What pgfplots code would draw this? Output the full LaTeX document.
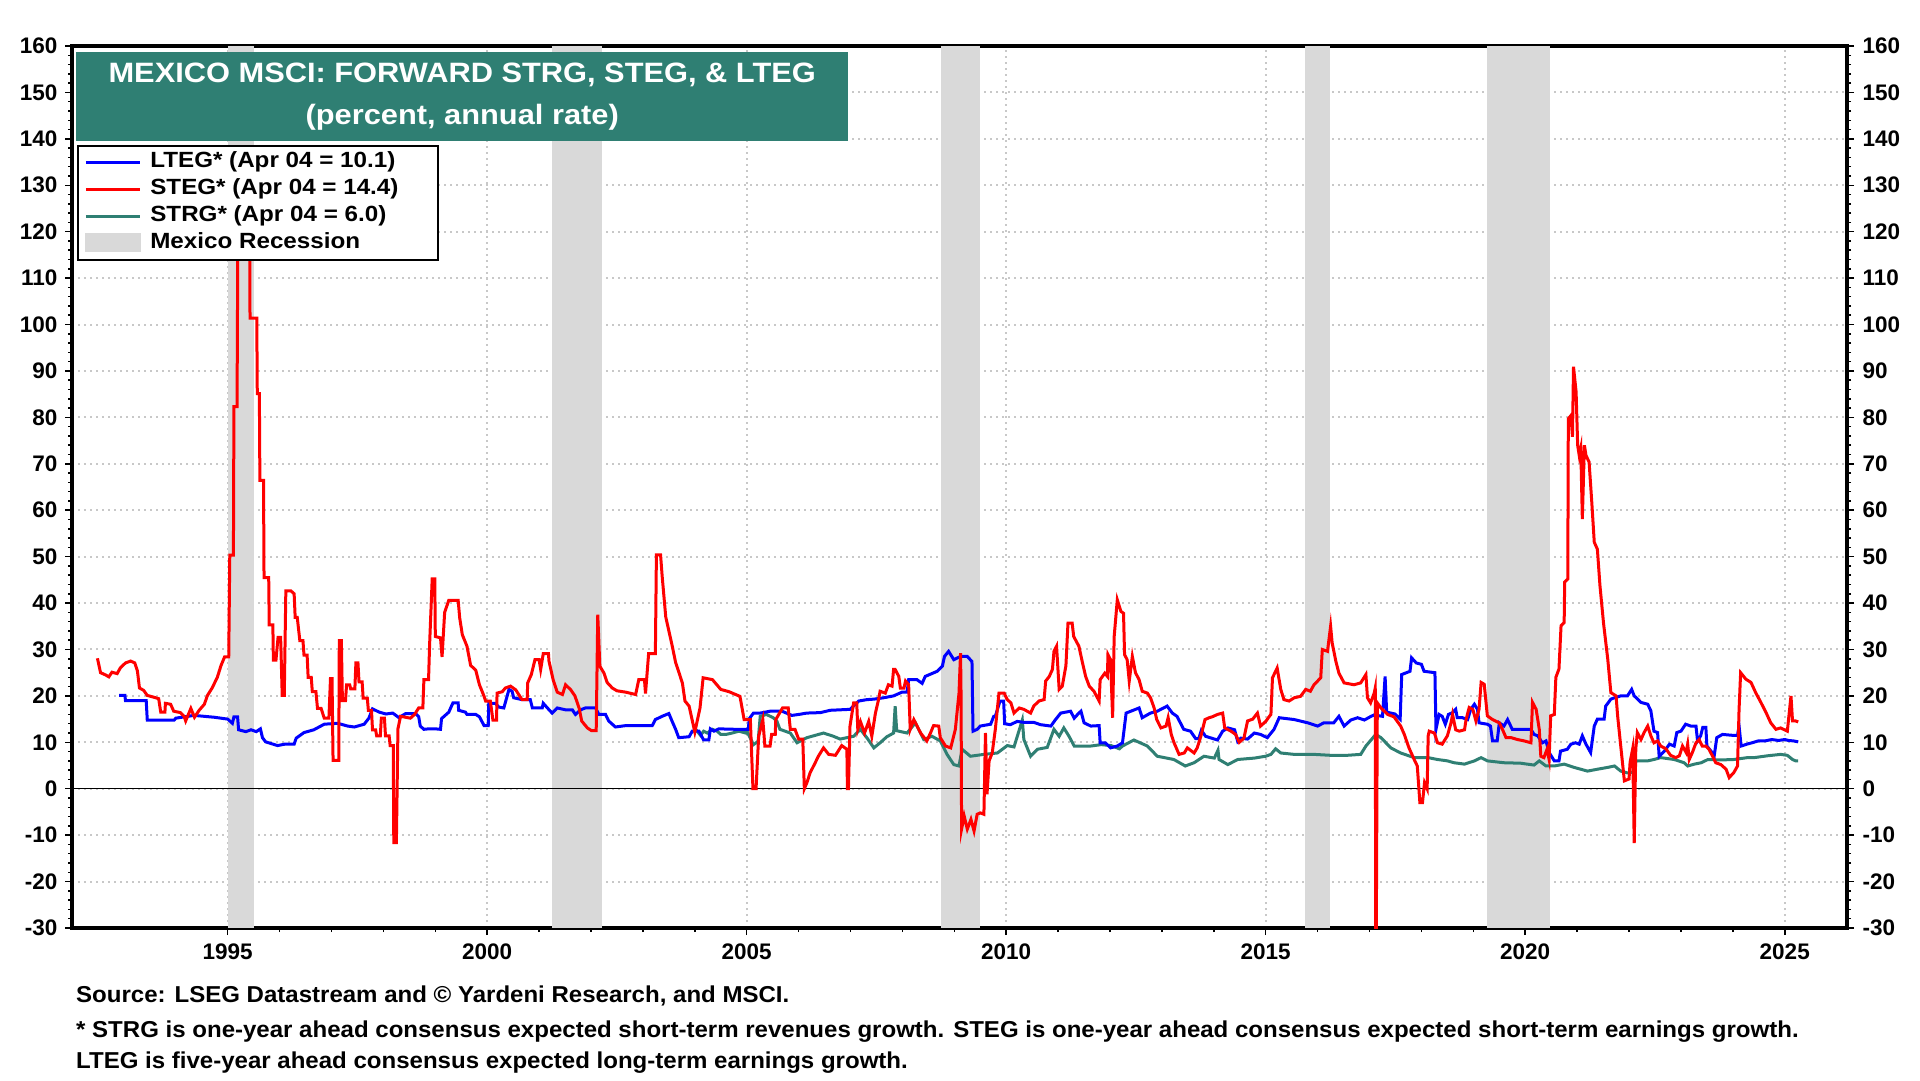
\documentclass[border=0pt]{standalone}
\usepackage{fontspec}
\setmainfont{Liberation Sans}
\newfontfamily\titlefont[FakeStretch=1.1]{Liberation Sans}
\newfontfamily\notefont[FakeStretch=1.045]{Liberation Sans}
\usepackage{pgfplots}
\pgfplotsset{compat=1.18}
\definecolor{teal1}{RGB}{47,127,115}
\definecolor{recg}{RGB}{217,217,217}
\definecolor{gridg}{RGB}{200,200,200}
\begin{document}
\begin{tikzpicture}[x=1pt,y=1pt]
\useasboundingbox (0,0) rectangle (1920,1080);
\begin{axis}[
  at={(72pt,152pt)}, anchor=south west,
  scale only axis, width=1775pt, height=882pt,
  xmin=1992.0, xmax=2026.2, ymin=-30, ymax=160,
  xtick={1995,2000,...,2025}, minor x tick num=4,
  ytick={-30,-20,...,160}, minor y tick num=4,
  xtick pos=left, ytick pos=left,
  tick align=outside,
  major tick length=7pt, minor tick length=4pt,
  every tick/.style={black, line width=1.5pt},
  axis line style={black, line width=3.5pt},
  /pgf/number format/assume math mode=true,
  ticklabel style={font=\bfseries\fontsize{22.5}{22.5}\selectfont},
  xticklabel style={/pgf/number format/1000 sep=, yshift=-5pt},
  yticklabel style={xshift=-4pt},
  grid=major,
  major grid style={line width=2pt, color=gridg, dash pattern=on 2pt off 4pt},
  legend cell align=left,
  legend style={at={(rel axis cs:0.003,0.888)}, anchor=north west,
    draw=black, line width=2pt, fill=white, inner xsep=6pt, inner ysep=4pt,
    font=\titlefont\bfseries\fontsize{22}{27}\selectfont, row sep=2pt,
    nodes={inner sep=2pt, text height=16pt, text depth=5pt}},
  legend image code/.code={\draw[#1] (0pt,0pt) -- (54pt,0pt); \path (61pt,0pt);},
]
% recessions
\addplot[fill=recg, draw=none, forget plot] coordinates {(1995.0,-30) (1995.0,160) (1995.5,160) (1995.5,-30)} -- cycle;
\addplot[fill=recg, draw=none, forget plot] coordinates {(2001.24,-30) (2001.24,160) (2002.22,160) (2002.22,-30)} -- cycle;
\addplot[fill=recg, draw=none, forget plot] coordinates {(2008.75,-30) (2008.75,160) (2009.49,160) (2009.49,-30)} -- cycle;
\addplot[fill=recg, draw=none, forget plot] coordinates {(2015.75,-30) (2015.75,160) (2016.23,160) (2016.23,-30)} -- cycle;
\addplot[fill=recg, draw=none, forget plot] coordinates {(2019.26,-30) (2019.26,160) (2020.48,160) (2020.48,-30)} -- cycle;
% zero line
\addplot[black, line width=1.3pt, forget plot] coordinates {(1992,0) (2026.2,0)};
% STRG
\addplot[teal1, line width=3pt, forget plot] coordinates {
(2004.01,12.9) (2004.11,11.5) (2004.17,12.4) (2004.24,12) (2004.34,12.8) (2004.43,12.4) (2004.50,11.7) (2004.60,11.7) (2004.72,12) (2004.85,12.4) (2004.98,12) (2005.00,12.5) (2005.13,9.5) (2005.22,10.2) (2005.26,15.6) (2005.38,16) (2005.51,15.3) (2005.58,14.6) (2005.64,12.8) (2005.84,12) (2005.97,9.9) (2006.16,11) (2006.48,12) (2006.67,11.3) (2006.80,10.7) (2007.06,11.3) (2007.19,12.8) (2007.32,10.9) (2007.45,8.8) (2007.57,9.9) (2007.70,11.2) (2007.83,12) (2007.86,17.8) (2007.89,12.5) (2008.09,12) (2008.25,14.2) (2008.41,10.6) (2008.57,11.3) (2008.73,10.3) (2008.86,7.4) (2008.99,5.2) (2009.09,4.9) (2009.15,8.5) (2009.31,7) (2009.57,7.4) (2009.83,7.7) (2010.02,9.3) (2010.15,9) (2010.31,14.8) (2010.34,10.6) (2010.47,7) (2010.60,8.5) (2010.79,8.9) (2010.92,12.8) (2011.02,11.3) (2011.11,13.1) (2011.21,11.3) (2011.31,9.2) (2011.44,9.2) (2011.63,9.2) (2011.83,9.5) (2012.02,9.3) (2012.18,8.6) (2012.24,9.2) (2012.46,10.5) (2012.72,9.2) (2012.91,7) (2013.23,6.3) (2013.45,4.9) (2013.62,5.6) (2013.81,7) (2014.01,6.6) (2014.08,8.3) (2014.10,6.3) (2014.27,5.2) (2014.46,6.3) (2014.78,6.6) (2015.00,7) (2015.10,7.4) (2015.19,8.6) (2015.29,7.7) (2015.55,7.4) (2015.93,7.4) (2016.25,7.2) (2016.57,7.2) (2016.83,7.4) (2016.93,9.2) (2017.12,11.7) (2017.22,11) (2017.41,8.8) (2017.60,7.7) (2017.86,6.7) (2018.13,6.7) (2018.31,6.3) (2018.50,6) (2018.63,5.6) (2018.83,5.3) (2019.02,6) (2019.15,6.7) (2019.27,6) (2019.59,5.6) (2019.91,5.5) (2020.17,5.1) (2020.27,6) (2020.40,4.9) (2020.56,4.9) (2020.75,5.3) (2020.94,4.6) (2021.20,3.8) (2021.39,4.2) (2021.59,4.6) (2021.72,4.9) (2021.84,3.8) (2021.97,3.4) (2022.10,3.6) (2022.13,6) (2022.36,6) (2022.48,6.3) (2022.61,6.7) (2022.87,6.3) (2023.06,5.6) (2023.13,4.9) (2023.26,5.3) (2023.39,5.6) (2023.52,6.3) (2023.77,6.2) (2024.02,6.3) (2024.28,6.7) (2024.41,6.7) (2024.67,7.1) (2024.92,7.4) (2025.05,7.2) (2025.15,6.3) (2025.21,6) (2025.26,6.0)
};
% LTEG
\addplot[blue, line width=3pt, forget plot] coordinates {
(1992.91,20.1) (1993.02,20.1) (1993.03,19) (1993.43,19) (1993.45,14.8) (1993.97,14.8) (1994.0,15.2) (1994.35,15.8) (1994.74,15.4) (1995.00,15) (1995.09,14.1) (1995.12,15.5) (1995.19,15.5) (1995.21,12.7) (1995.35,12.3) (1995.45,12.7) (1995.55,12.3) (1995.63,12.9) (1995.67,11) (1995.73,10.1) (1995.96,9.3) (1996.10,9.6) (1996.28,9.6) (1996.32,10.9) (1996.47,12.1) (1996.66,12.7) (1996.86,13.9) (1997.12,14.1) (1997.31,13.5) (1997.44,13.3) (1997.63,13.9) (1997.72,15.2) (1997.79,17.2) (1997.92,16.5) (1998.05,16.1) (1998.18,16.3) (1998.30,15.3) (1998.37,15.8) (1998.43,16.2) (1998.62,16.2) (1998.68,15.5) (1998.71,13.5) (1998.78,12.8) (1998.87,12.9) (1999.0,12.9) (1999.10,12.8) (1999.12,15.1) (1999.26,16.5) (1999.34,18.5) (1999.44,18.5) (1999.45,16.9) (1999.58,16.5) (1999.61,16) (1999.78,16) (1999.85,15.5) (1999.94,13.6) (2000.02,13.6) (2000.03,18.4) (2000.16,18.4) (2000.22,17.6) (2000.32,17.4) (2000.42,21.4) (2000.48,21) (2000.51,19.6) (2000.67,19.2) (2000.83,19.2) (2000.87,17.4) (2001.06,17.4) (2001.08,18.4) (2001.16,17.4) (2001.25,16.3) (2001.35,17.4) (2001.51,17) (2001.64,17) (2001.70,16) (2001.80,17) (2001.89,17.4) (2002.09,17.4) (2002.15,16) (2002.28,16) (2002.34,14.6) (2002.47,13.3) (2002.67,13.6) (2003.03,13.6) (2003.18,13.6) (2003.24,14.9) (2003.37,15.6) (2003.50,16.2) (2003.56,14.6) (2003.63,12.8) (2003.69,11) (2003.89,11.2) (2003.95,12.4) (2004.08,12.4) (2004.17,10.5) (2004.27,10.5) (2004.30,12.9) (2004.37,12.4) (2004.46,12.9) (2004.79,12.8) (2005.03,12.8) (2005.05,15.1) (2005.13,16.3) (2005.26,16.3) (2005.45,16.7) (2005.68,16.7) (2005.87,15.8) (2006.00,16) (2006.16,16.3) (2006.42,16.4) (2006.61,16.9) (2006.99,17.1) (2007.16,18.9) (2007.32,19.2) (2007.45,19.3) (2007.64,19.6) (2007.83,20) (2007.99,20.8) (2008.09,20.8) (2008.12,23.5) (2008.28,23.5) (2008.38,22.7) (2008.44,24.2) (2008.67,25.3) (2008.77,26.4) (2008.81,28.5) (2008.89,29.6) (2008.99,27.8) (2009.12,28.5) (2009.25,28.5) (2009.34,27.4) (2009.36,12.4) (2009.44,12.8) (2009.50,13.5) (2009.70,13.9) (2009.76,15.6) (2009.79,15.6) (2009.88,18.9) (2009.95,18.9) (2009.97,14) (2010.08,13.8) (2010.21,14.5) (2010.34,14.3) (2010.53,14.3) (2010.66,13.8) (2010.86,13.5) (2010.95,14.9) (2011.05,16.3) (2011.24,16.7) (2011.31,15.2) (2011.40,16.3) (2011.44,16.7) (2011.50,14.2) (2011.63,13.5) (2011.79,13.6) (2011.81,9.9) (2011.91,9.9) (2012.01,8.8) (2012.14,9.2) (2012.24,9.9) (2012.31,16.3) (2012.56,17.4) (2012.62,15.3) (2012.78,16.3) (2012.91,16.7) (2013.10,17.8) (2013.20,16.3) (2013.29,15.6) (2013.42,12.8) (2013.55,12.4) (2013.65,10.8) (2013.71,10.8) (2013.76,12.6) (2013.84,11.3) (2014.07,10.5) (2014.17,12.4) (2014.27,13.1) (2014.40,12.7) (2014.46,10.2) (2014.52,10.9) (2014.65,10.7) (2014.78,12) (2014.90,11.7) (2015.03,11) (2015.16,12.8) (2015.26,15.3) (2015.55,14.9) (2015.81,14.2) (2016.00,13.5) (2016.12,14.2) (2016.31,14.2) (2016.41,15.6) (2016.51,13.5) (2016.64,14.8) (2016.77,15.3) (2016.90,14.8) (2017.03,15.6) (2017.09,15.9) (2017.25,15.6) (2017.30,24.2) (2017.33,16.5) (2017.49,16.1) (2017.59,15) (2017.62,24.6) (2017.78,25.3) (2017.81,28.2) (2017.90,27.1) (2018.00,26.8) (2018.05,25.3) (2018.26,25) (2018.28,12.8) (2018.34,16) (2018.40,15.6) (2018.46,13.9) (2018.52,16) (2018.60,16.4) (2018.66,17.1) (2018.69,15.3) (2018.79,15.3) (2018.89,14.9) (2018.95,17.1) (2019.02,18.2) (2019.08,17.1) (2019.11,14.2) (2019.27,13.9) (2019.33,13.5) (2019.37,10.3) (2019.46,10.3) (2019.50,14.2) (2019.59,13.5) (2019.66,14.9) (2019.72,13.5) (2019.75,12.8) (2020.11,12.8) (2020.17,11.7) (2020.24,11.4) (2020.33,9.9) (2020.40,10.3) (2020.46,7.8) (2020.56,6) (2020.65,6) (2020.68,8.1) (2020.81,8.5) (2020.88,9.6) (2020.97,9.9) (2021.04,9.6) (2021.10,11.4) (2021.17,9.6) (2021.26,7.8) (2021.33,13.5) (2021.39,15) (2021.52,15) (2021.55,17.8) (2021.65,19.3) (2021.72,19.6) (2021.84,20) (2021.97,20) (2022.05,21.4) (2022.10,20) (2022.23,18.6) (2022.36,18.2) (2022.42,16.8) (2022.45,14.6) (2022.48,12.4) (2022.55,12.1) (2022.58,7) (2022.68,8.1) (2022.78,9.6) (2022.87,9.2) (2022.92,12.1) (2023.00,12.4) (2023.09,13.9) (2023.19,13.5) (2023.29,13.5) (2023.32,10.3) (2023.38,11.4) (2023.42,13.2) (2023.48,13.2) (2023.50,9.2) (2023.58,8.1) (2023.64,7) (2023.69,11) (2023.80,11.7) (2024.00,11.5) (2024.09,11.5) (2024.12,13.5) (2024.16,9.2) (2024.27,9.6) (2024.37,9.9) (2024.49,10.3) (2024.62,10.3) (2024.75,10.6) (2024.88,10.4) (2025.0,10.6) (2025.07,10.4) (2025.17,10.3) (2025.26,10.1)
};
% STEG
\addplot[red, line width=3pt, forget plot] coordinates {
(1992.49,28.1) (1992.55,25) (1992.65,24.5) (1992.71,24.1) (1992.77,25.1) (1992.87,24.8) (1992.93,26) (1993.03,27.1) (1993.13,27.5) (1993.21,27.1) (1993.26,25.4) (1993.30,21.7) (1993.38,21.2) (1993.45,20.1) (1993.55,19.8) (1993.67,19.4) (1993.71,16.5) (1993.79,16.5) (1993.80,18.4) (1993.90,18.2) (1993.96,16.7) (1994.09,16.4) (1994.16,15.6) (1994.19,14.6) (1994.29,17.3) (1994.36,15.4) (1994.45,16.9) (1994.55,18.2) (1994.61,20.1) (1994.70,21.7) (1994.80,24) (1994.87,26.5) (1994.94,28.4) (1995.02,28.4) (1995.04,50.3) (1995.11,50.3) (1995.12,82.3) (1995.18,82.3) (1995.20,130) (1995.42,130) (1995.43,101.4) (1995.56,101.4) (1995.57,85.1) (1995.61,85.1) (1995.62,66.4) (1995.69,66.4) (1995.70,45.5) (1995.79,45.5) (1995.80,35.3) (1995.87,35.3) (1995.88,27.7) (1995.93,27.7) (1995.97,32.6) (1996.02,32.6) (1996.05,20.1) (1996.09,20.1) (1996.12,42.6) (1996.22,42.6) (1996.28,42) (1996.30,36.9) (1996.34,36.9) (1996.39,31.9) (1996.45,31.9) (1996.47,28.8) (1996.53,28.8) (1996.55,24) (1996.61,24) (1996.63,20.9) (1996.70,20.9) (1996.73,17.3) (1996.80,17.3) (1996.86,15.2) (1996.95,15.2) (1996.98,23.7) (1997.01,23.7) (1997.03,6.1) (1997.14,6.1) (1997.15,31.9) (1997.19,31.9) (1997.21,19) (1997.27,19) (1997.29,22.4) (1997.35,22.4) (1997.37,21.5) (1997.45,21.5) (1997.47,27.1) (1997.51,27.1) (1997.53,23) (1997.59,23) (1997.61,19.5) (1997.69,19.5) (1997.71,16.9) (1997.77,16.9) (1997.79,12.7) (1997.85,12.7) (1997.87,11.4) (1997.94,11.4) (1997.96,15.2) (1998.02,15.2) (1998.04,11.4) (1998.11,11.4) (1998.13,9.3) (1998.19,9.3) (1998.20,-11.6) (1998.25,-11.6) (1998.28,12.9) (1998.33,15.6) (1998.52,15.2) (1998.60,16) (1998.68,17.4) (1998.76,17.4) (1998.78,23.5) (1998.87,23.5) (1998.89,31) (1998.94,45.2) (1998.99,45.2) (1999.00,32.8) (1999.10,32.5) (1999.13,28.4) (1999.18,38) (1999.26,40.6) (1999.44,40.6) (1999.47,36.8) (1999.52,33.2) (1999.61,30.7) (1999.68,26.6) (1999.78,25.5) (1999.85,22.4) (1999.94,19.9) (1999.97,18.9) (2000.06,18.9) (2000.11,14.8) (2000.18,14.8) (2000.19,20.6) (2000.29,20.9) (2000.35,21.7) (2000.45,22.1) (2000.55,21.3) (2000.67,19.2) (2000.77,19.2) (2000.78,22.8) (2000.85,24.6) (2000.92,27.8) (2001.00,27.8) (2001.03,25.7) (2001.08,29.1) (2001.18,29.1) (2001.19,27.5) (2001.27,23.5) (2001.35,20.8) (2001.45,20.3) (2001.51,22.4) (2001.61,21.3) (2001.69,20) (2001.77,17.4) (2001.82,14.6) (2001.93,13.1) (2002.01,12.5) (2002.10,12.5) (2002.13,37.5) (2002.17,26.4) (2002.25,24.9) (2002.31,22.9) (2002.41,21.7) (2002.50,21.1) (2002.67,20.8) (2002.86,20.3) (2002.92,23.5) (2003.03,23.5) (2003.05,20.5) (2003.11,29.1) (2003.24,29.1) (2003.26,50.4) (2003.34,50.4) (2003.37,45.9) (2003.44,37) (2003.56,31) (2003.63,27.2) (2003.76,22.8) (2003.81,18.9) (2003.89,17.8) (2004.00,12.2) (2004.10,17.4) (2004.16,23.9) (2004.34,23.5) (2004.50,21.4) (2004.66,20.9) (2004.87,19.9) (2004.95,14.9) (2005.07,14.9) (2005.12,0) (2005.18,0) (2005.23,11.3) (2005.31,14.9) (2005.35,9.2) (2005.45,9.2) (2005.48,11.7) (2005.55,11.7) (2005.56,14.9) (2005.69,17.4) (2005.80,17.4) (2005.84,12.8) (2005.93,12.8) (2006.00,10.7) (2006.08,10.7) (2006.11,0) (2006.16,1.3) (2006.22,3.4) (2006.32,5.6) (2006.38,7) (2006.48,8.8) (2006.58,7.4) (2006.71,7.2) (2006.83,9.3) (2006.93,8.5) (2006.94,0) (2006.96,0) (2006.99,13.5) (2007.06,18.5) (2007.12,18.5) (2007.14,12.8) (2007.19,14.5) (2007.27,12) (2007.35,14.5) (2007.41,11.3) (2007.48,16.3) (2007.54,19.2) (2007.57,21) (2007.67,20.6) (2007.73,22.4) (2007.80,22.1) (2007.83,25.7) (2007.86,25.7) (2007.93,24.2) (2007.96,21.7) (2008.03,21.7) (2008.06,23.2) (2008.12,22.4) (2008.15,12.8) (2008.22,14.9) (2008.35,12) (2008.47,10.3) (2008.54,12) (2008.60,13.6) (2008.70,13.5) (2008.73,11) (2008.83,9.2) (2008.93,8.8) (2009.02,12.8) (2009.09,20.6) (2009.12,29.2) (2009.13,20) (2009.14,-8.7) (2009.19,-5.9) (2009.25,-8.7) (2009.32,-6.6) (2009.38,-9.1) (2009.44,-5.5) (2009.50,-5.2) (2009.57,-5.5) (2009.60,12) (2009.63,-1.2) (2009.67,6) (2009.73,7.7) (2009.79,12.8) (2009.86,20.6) (2009.96,20.6) (2010.02,19.2) (2010.09,18.5) (2010.15,16.3) (2010.25,17.4) (2010.34,17.1) (2010.47,16.3) (2010.53,17.8) (2010.63,18.9) (2010.73,19.2) (2010.76,23.2) (2010.83,24.2) (2010.89,25.7) (2010.92,29.6) (2010.97,30.7) (2011.02,21.4) (2011.08,22.1) (2011.15,26.5) (2011.19,35.7) (2011.27,35.7) (2011.30,32.8) (2011.40,30.7) (2011.47,27.1) (2011.53,24.2) (2011.60,22.1) (2011.69,21) (2011.79,18.9) (2011.81,23.5) (2011.90,24.9) (2011.95,24.2) (2011.96,28.9) (2012.01,27.8) (2012.05,15.3) (2012.08,32.8) (2012.14,40.7) (2012.21,38.2) (2012.26,37.8) (2012.28,28.9) (2012.33,27.8) (2012.37,23.2) (2012.43,28.5) (2012.49,25) (2012.56,23.5) (2012.62,21) (2012.72,20.6) (2012.78,19.6) (2012.85,17.4) (2012.90,14.9) (2012.98,13.1) (2013.08,13.5) (2013.12,15.3) (2013.18,11.7) (2013.23,10) (2013.33,7.4) (2013.43,7.7) (2013.49,8.8) (2013.62,7.7) (2013.68,8.8) (2013.75,11.3) (2013.83,14.9) (2013.91,15.3) (2013.97,15.5) (2014.07,16) (2014.17,16.3) (2014.21,13.1) (2014.33,12.4) (2014.42,11.7) (2014.49,10) (2014.58,10.9) (2014.65,14.6) (2014.75,15) (2014.84,16.3) (2014.90,13.5) (2015.00,14.5) (2015.07,15.6) (2015.10,16) (2015.13,23.9) (2015.22,26) (2015.29,21.4) (2015.35,19.2) (2015.45,18.9) (2015.55,19.6) (2015.67,19.9) (2015.77,21.4) (2015.86,21) (2015.93,22.4) (2016.06,23.9) (2016.09,30) (2016.19,29.6) (2016.25,35) (2016.28,31.4) (2016.35,27.5) (2016.41,24.9) (2016.51,22.8) (2016.70,22.4) (2016.83,22.8) (2016.93,24.6) (2016.96,19.6) (2017.02,18.5) (2017.09,20.6) (2017.11,21.7) (2017.12,-32) (2017.13,-32) (2017.15,18.5) (2017.22,17.4) (2017.35,16) (2017.47,15.5) (2017.60,13.5) (2017.67,11.7) (2017.76,8.8) (2017.86,6.3) (2017.92,4.9) (2017.97,-3) (2018.02,-3) (2018.06,1.3) (2018.11,0) (2018.13,11.4) (2018.15,12.4) (2018.25,12) (2018.31,9.9) (2018.40,9.6) (2018.50,11.4) (2018.57,14.2) (2018.60,16) (2018.66,12.7) (2018.73,12.4) (2018.83,12.7) (2018.86,14.9) (2018.92,17.5) (2018.99,17.1) (2019.05,14.6) (2019.11,17.1) (2019.15,22.9) (2019.21,22.5) (2019.27,15.7) (2019.37,14.9) (2019.50,14.2) (2019.56,12.8) (2019.63,11) (2019.73,11) (2019.85,10.6) (2019.98,10.3) (2020.11,9.9) (2020.14,18.6) (2020.21,17.1) (2020.24,15) (2020.27,12.8) (2020.30,7) (2020.36,6.7) (2020.42,8.5) (2020.46,6.3) (2020.49,15.7) (2020.56,16) (2020.59,24) (2020.65,25.8) (2020.69,35.1) (2020.75,35.8) (2020.76,44.5) (2020.82,45.2) (2020.83,79.7) (2020.88,80.4) (2020.91,75.8) (2020.93,90.9) (2020.98,85.5) (2021.01,74) (2021.04,71.8) (2021.07,73.4) (2021.10,58.1) (2021.14,74) (2021.17,71.8) (2021.23,70.4) (2021.28,62.1) (2021.33,53.1) (2021.39,51.6) (2021.44,43.7) (2021.51,35.5) (2021.59,27.9) (2021.65,20.7) (2021.75,20) (2021.78,15.7) (2021.84,9.2) (2021.91,1.7) (2022.00,2.1) (2022.02,5.7) (2022.07,8.6) (2022.10,-11.7) (2022.13,8.6) (2022.16,12.1) (2022.23,10.6) (2022.29,12.1) (2022.36,13.5) (2022.42,11.4) (2022.48,9.9) (2022.55,10.3) (2022.61,9.2) (2022.71,8.6) (2022.80,7.2) (2022.90,6.7) (2022.97,7.1) (2023.03,9.2) (2023.10,7.8) (2023.13,9.6) (2023.16,6.3) (2023.22,7.8) (2023.29,9.9) (2023.35,10.6) (2023.41,9.2) (2023.48,9.2) (2023.54,8.5) (2023.61,7) (2023.67,5.6) (2023.77,5.2) (2023.87,4.2) (2023.93,2.4) (2024.02,3.5) (2024.09,4.9) (2024.12,17.1) (2024.15,25) (2024.25,23.6) (2024.35,22.9) (2024.44,20.7) (2024.54,18.6) (2024.64,16.4) (2024.73,14.2) (2024.83,12.8) (2024.92,13.1) (2025.05,12.4) (2025.12,20) (2025.15,14.6) (2025.21,14.6) (2025.26,14.4)
};
\addlegendimage{blue, line width=3pt}
\addlegendentry{LTEG* (Apr 04 = 10.1)}
\addlegendimage{red, line width=3pt}
\addlegendentry{STEG* (Apr 04 = 14.4)\rule{32pt}{0pt}}
\addlegendimage{teal1, line width=3pt}
\addlegendentry{STRG* (Apr 04 = 6.0)}
\addlegendimage{legend image code/.code={\fill[recg] (0pt,-8pt) rectangle (54pt,9pt); \path (61pt,0pt);}}
\addlegendentry{Mexico Recession}
\end{axis}
\begin{axis}[
  at={(72pt,152pt)}, anchor=south west,
  scale only axis, width=1775pt, height=882pt,
  xmin=1992.0, xmax=2026.2, ymin=-30, ymax=160,
  axis x line=none, axis y line*=right,
  ytick={-30,-20,...,160}, minor y tick num=4,
  tick align=outside,
  major tick length=7pt, minor tick length=4pt,
  every tick/.style={black, line width=1.5pt},
  axis line style={black, line width=3.5pt, -},
  /pgf/number format/assume math mode=true,
  ticklabel style={font=\bfseries\fontsize{22.5}{22.5}\selectfont},
  yticklabel style={xshift=5pt},
]
\end{axis}
\node[fill=teal1, anchor=north west, minimum width=772pt, minimum height=89pt, inner sep=0pt, text=white, align=center, font=\titlefont\bfseries\fontsize{28}{42}\selectfont] at (76,1028) {MEXICO MSCI: FORWARD STRG, STEG, \& LTEG\\(percent, annual rate)};
\node[anchor=base west, inner sep=0pt, font=\notefont\bfseries\fontsize{23}{23}\selectfont] at (76,78) {Source: LSEG Datastream and © Yardeni Research, and MSCI.};
\node[anchor=base west, inner sep=0pt, font=\notefont\bfseries\fontsize{23}{23}\selectfont] at (76,43) {* STRG is one-year ahead consensus expected short-term revenues growth. STEG is one-year ahead consensus expected short-term earnings growth.};
\node[anchor=base west, inner sep=0pt, font=\notefont\bfseries\fontsize{23}{23}\selectfont] at (76,12) {LTEG is five-year ahead consensus expected long-term earnings growth.};
\end{tikzpicture}
\end{document}
